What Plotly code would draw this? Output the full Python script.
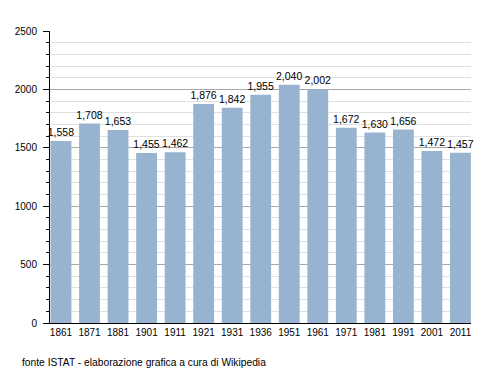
import plotly.graph_objects as go

years = ["1861", "1871", "1881", "1901", "1911", "1921", "1931", "1936",
         "1951", "1961", "1971", "1981", "1991", "2001", "2011"]
population = [1558, 1708, 1653, 1455, 1462, 1876, 1842, 1955,
              2040, 2002, 1672, 1630, 1656, 1472, 1457]
y_ticks = [0, 500, 1000, 1500, 2000, 2500]
source_note = "fonte ISTAT - elaborazione grafica a cura di Wikipedia"

FONT = "Liberation Sans, Arial, sans-serif"

fig = go.Figure()
fig.add_trace(go.Bar(
    x=list(range(len(years))),
    y=population,
    marker=dict(color="#98b3cf", line=dict(width=0)),
    text=[f"{v:,}" for v in population],
    textposition="outside",
    constraintext="none",
    textfont=dict(family=FONT, size=10.5, color="#000000"),
    cliponaxis=False,
    hoverinfo="skip",
))

# page body has an 8px default margin, so the figure is sized to fit
fig.update_layout(
    width=492, height=365,
    margin=dict(l=42, r=29, t=23, b=50, autoexpand=False),
    paper_bgcolor="white", plot_bgcolor="white",
    bargap=0.27,
    showlegend=False,
    font=dict(family=FONT, size=10, color="#000000"),
    annotations=[dict(
        text=source_note, xref="paper", yref="paper",
        x=-0.0713, y=-0.1336, xanchor="left", yanchor="middle",
        showarrow=False, font=dict(family=FONT, size=10.25, color="#000000"),
    )],
)

fig.update_xaxes(
    range=[-0.385, 14.37],
    tickmode="array",
    tickvals=list(range(len(years))),
    ticktext=years,
    showgrid=False,
    showline=True, linecolor="#000000", linewidth=1,
    ticks="", ticklen=0,
    tickfont=dict(family=FONT, size=10),
    zeroline=False,
    automargin=False,
)

fig.update_yaxes(
    range=[0, 2500],
    tickmode="array",
    tickvals=y_ticks,
    showgrid=True, gridcolor="#a8a8a8", gridwidth=1,
    showline=True, linecolor="#000000", linewidth=1,
    ticks="outside", ticklen=6, tickcolor="#000000",
    ticklabelstandoff=4,
    tickfont=dict(family=FONT, size=10),
    zeroline=False,
    automargin=False,
    minor=dict(dtick=100, showgrid=True, gridcolor="#e0e0e0",
               ticks="outside", ticklen=3, tickcolor="#000000"),
)

fig.write_html("out.html")
